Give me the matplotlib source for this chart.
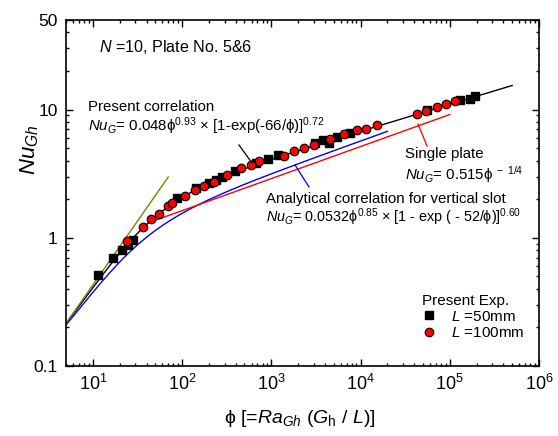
import numpy as np
import matplotlib
matplotlib.use("Agg")
import matplotlib.pyplot as plt
from matplotlib.lines import Line2D
from matplotlib.ticker import FixedLocator, NullFormatter, LogLocator, LogFormatterSciNotation

plt.rcParams['font.family'] = ['Liberation Sans', 'DejaVu Sans']
plt.rcParams['mathtext.fontset'] = 'custom'
plt.rcParams['mathtext.rm'] = 'Liberation Sans'
plt.rcParams['mathtext.it'] = 'Liberation Sans:italic'
plt.rcParams['mathtext.bf'] = 'Liberation Sans:bold'

# ---- data ----
phi_50 = [11.5, 16.7, 21, 24.5, 27.9, 88, 142, 198, 243, 277, 391, 682, 921, 1190,
          3070, 3800, 4440, 5460, 7570, 55600, 129000, 167000, 194000]
nu_50 = [0.514, 0.69, 0.805, 0.88, 0.96, 2.05, 2.46, 2.68, 2.84, 2.98, 3.32, 3.85, 4.14, 4.4,
         5.52, 5.75, 5.5, 6.12, 6.6, 9.88, 11.8, 12.2, 12.7]

phi_100 = [24.4, 36.1, 44.4, 55, 70, 78, 108, 139, 175, 227, 315, 456, 585, 731, 1390, 1786,
           2311, 2990, 4520, 6460, 9120, 11650, 15300, 42900, 53700, 72600, 91600, 113500]
nu_100 = [0.95, 1.22, 1.41, 1.54, 1.77, 1.88, 2.1, 2.34, 2.53, 2.72, 3.1, 3.52, 3.67, 3.97, 4.35,
          4.76, 5.05, 5.33, 5.94, 6.5, 6.89, 7.1, 7.54, 9.3, 9.7, 10.5, 11.1, 11.6]

# correlation coefficients (as printed on the chart)
present_c, present_a, present_k, present_b = 0.048, 0.93, 66.0, 0.72
present_range = (5.0, 5.0e5)
slot_c, slot_a, slot_k, slot_b = 0.0532, 0.85, 52.0, 0.60
slot_range = (5.0, 2.0e4)
plate_c, plate_a = 0.515, 0.25
plate_range = (48.0, 1.0e5)
# olive limiting line (end points)
olive_phi = [5.0, 70.0]
olive_nu = [0.215, 2.98]

xticks_major = [1e1, 1e2, 1e3, 1e4, 1e5, 1e6]
yticks_major = [0.1, 1, 10, 50]
ytick_labels = ["0.1", "1", "10", "50"]

PHI = 'ϕ'

W, H = 558, 436
fig = plt.figure(figsize=(W / 100, H / 100), dpi=100)
ax = fig.add_axes([66 / W, 1 - 366 / H, (539 - 66) / W, (366 - 20) / H])

p1 = np.logspace(np.log10(present_range[0]), np.log10(present_range[1]), 400)
ax.plot(p1, present_c * p1 ** present_a * (1 - np.exp(-present_k / p1)) ** present_b,
        color='black', lw=1.0, zorder=2)
p2 = np.logspace(np.log10(slot_range[0]), np.log10(slot_range[1]), 400)
ax.plot(p2, slot_c * p2 ** slot_a * (1 - np.exp(-slot_k / p2)) ** slot_b,
        color='#0000ff', lw=1.0, zorder=2)
p3 = np.logspace(np.log10(plate_range[0]), np.log10(plate_range[1]), 100)
ax.plot(p3, plate_c * p3 ** plate_a, color='#ff0000', lw=1.0, zorder=2)
ax.plot(olive_phi, olive_nu, color='#808000', lw=1.0, zorder=2)

ax.plot(phi_50, nu_50, ls='none', marker='s', ms=5.6, mfc='black', mec='black',
        zorder=3, label=r'$\mathit{L}$ =50mm')
ax.plot(phi_100, nu_100, ls='none', marker='o', ms=6.2, mfc='#ff0000', mec='black',
        mew=0.8, zorder=4, label=r'$\mathit{L}$ =100mm')

ax.set_xscale('log')
ax.set_yscale('log')
ax.set_xlim(5, 1e6)
ax.set_ylim(0.1, 50)
ax.xaxis.set_major_locator(FixedLocator(xticks_major))
ax.xaxis.set_major_formatter(LogFormatterSciNotation())
ax.xaxis.set_minor_locator(LogLocator(base=10, subs=np.arange(2, 10), numticks=20))
ax.xaxis.set_minor_formatter(NullFormatter())
ax.yaxis.set_major_locator(FixedLocator(yticks_major))
ax.set_yticklabels(ytick_labels)
ax.yaxis.set_minor_locator(LogLocator(base=10, subs=np.arange(2, 10), numticks=20))
ax.yaxis.set_minor_formatter(NullFormatter())
ax.tick_params(which='both', direction='in', top=True, right=True, width=1.0)
ax.tick_params(which='major', length=5, labelsize=13, pad=6)
ax.tick_params(which='minor', length=2.5)
ax.tick_params(axis='y', labelsize=12.5)
for s in ax.spines.values():
    s.set_linewidth(1.2)

leg = ax.legend(loc='upper left', bbox_to_anchor=(420 / W, 1 - 292 / H), bbox_transform=fig.transFigure,
                frameon=False, title='Present Exp.', alignment='left', fontsize=11,
                title_fontsize=11, handlelength=1.0, handletextpad=0.9, borderpad=0.1,
                labelspacing=0.15, borderaxespad=0)

fs = 10.8
def ftext(x, y, s, **kw):
    fig.text(x / W, 1 - y / H, s, fontsize=kw.pop('fontsize', fs), va='baseline', ha='left', **kw)

ftext(99, 52, r'$\mathit{N}$ =10, Plate No. 5&6', fontsize=11.6)
ftext(88, 111, 'Present correlation')
ftext(88, 131, r'$\mathit{Nu}_{\mathit{G}}$= 0.048' + PHI + r'$^{0.93}$ × [1-exp(-66/' + PHI + r')]$^{0.72}$')
ftext(405, 158, 'Single plate')
ftext(405, 180, r'$\mathit{Nu}_{\mathit{G}}$= 0.515' + PHI + r'$^{\ -\ 1/4}$')
ftext(266, 203, 'Analytical correlation for vertical slot')
ftext(266, 222, r'$\mathit{Nu}_{\mathit{G}}$= 0.0532' + PHI + r'$^{0.85}$ × [1 - exp ( - 52/' + PHI + r')]$^{0.60}$',
      fontsize=10.4)

def fline(x0, y0, x1, y1, c):
    fig.add_artist(Line2D([x0 / W, x1 / W], [1 - y0 / H, 1 - y1 / H], color=c, lw=0.9,
                          transform=fig.transFigure))

fline(239, 145, 252, 163, 'black')
fline(295, 165, 309, 187, '#0000ff')
fline(418, 124, 427, 146, '#ff0000')

fig.text(30 / W, 1 - 150 / H, r'$\mathit{Nu}_{\mathit{Gh}}$', fontsize=16, rotation=90,
         ha='center', va='center')
fig.text(300 / W, 1 - 418 / H,
         PHI + r' [=$\mathit{Ra}_{\mathit{Gh}}$ ($\mathit{G}_{\mathrm{h}}$ / $\mathit{L}$)]',
         fontsize=14, ha='center', va='center')

fig.savefig('out.png', dpi=100)
